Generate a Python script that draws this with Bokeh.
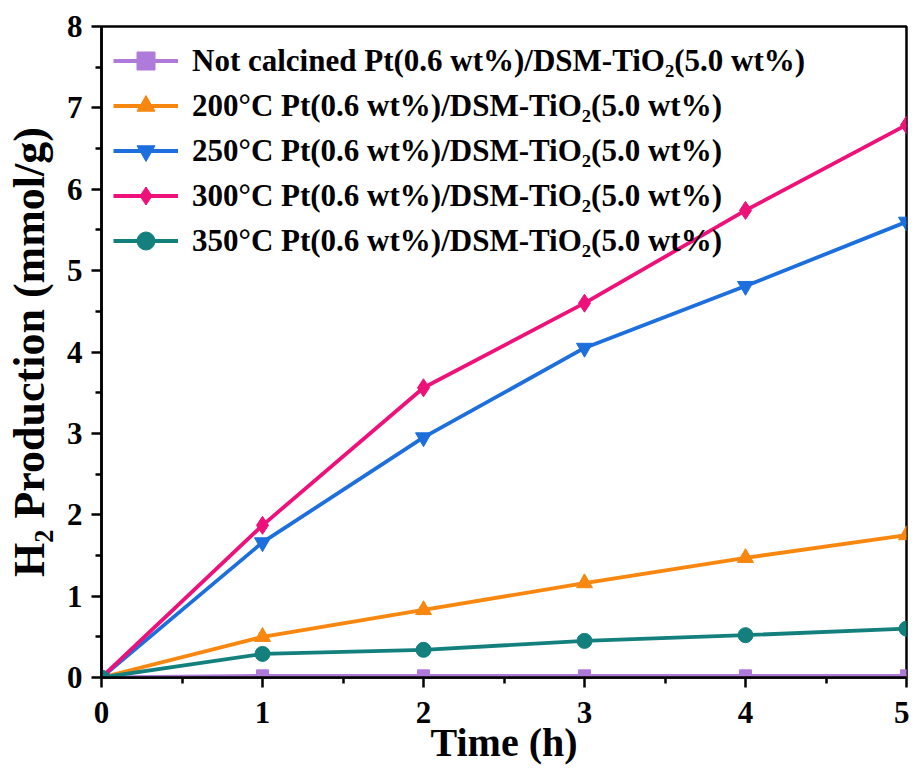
from bokeh.plotting import figure
from bokeh.models import Legend, LegendItem, FixedTicker, Range1d
from bokeh.embed import file_html
from bokeh.resources import INLINE

time_h = [0, 1, 2, 3, 4, 5]
not_calcined = [0, 0.02, 0.02, 0.02, 0.02, 0.02]
c200 = [0, 0.50, 0.83, 1.16, 1.47, 1.75]
c250 = [0, 1.66, 2.95, 4.05, 4.81, 5.60]
c300 = [0, 1.87, 3.56, 4.60, 5.74, 6.79]
c350 = [0, 0.29, 0.34, 0.45, 0.52, 0.60]

labels = [
    "Not calcined Pt(0.6 wt%)/DSM-TiO₂(5.0 wt%)",
    "200°C Pt(0.6 wt%)/DSM-TiO₂(5.0 wt%)",
    "250°C Pt(0.6 wt%)/DSM-TiO₂(5.0 wt%)",
    "300°C Pt(0.6 wt%)/DSM-TiO₂(5.0 wt%)",
    "350°C Pt(0.6 wt%)/DSM-TiO₂(5.0 wt%)",
]
series = [not_calcined, c200, c250, c300, c350]
colors = ["#AE7BDB", "#F7870F", "#1C6FDC", "#EE1179", "#14807D"]
markers = ["square", "triangle", "inverted_triangle", "diamond", "circle"]
sizes = [12, 16, 16, 18, 15]

FONT = "Liberation Serif"

p = figure(width=909, height=767, output_backend="svg", toolbar_location=None,
           x_range=Range1d(0, 5), y_range=Range1d(0, 8),
           min_border_left=101, min_border_right=3, min_border_top=26, min_border_bottom=89)

items = []
for ys, lab, col, mk, sz in zip(series, labels, colors, markers, sizes):
    r1 = p.line(time_h, ys, line_color=col, line_width=3.8)
    r2 = p.scatter(time_h, ys, marker=mk, size=sz, fill_color=col, line_color=col)
    items.append(LegendItem(label=lab, renderers=[r1, r2]))

legend = Legend(items=items, location="top_left", border_line_color=None,
                background_fill_alpha=0, margin=12, padding=2, spacing=0,
                glyph_width=65, glyph_height=45, label_height=45,
                label_standoff=14, label_text_font=FONT,
                label_text_font_style="bold", label_text_font_size="31px",
                label_text_color="black")
p.add_layout(legend)

p.grid.visible = False
p.outline_line_color = "black"
p.outline_line_width = 2.5

p.xaxis.ticker = FixedTicker(ticks=[0, 1, 2, 3, 4, 5], minor_ticks=[0.5, 1.5, 2.5, 3.5, 4.5])
p.yaxis.ticker = FixedTicker(ticks=[0, 1, 2, 3, 4, 5, 6, 7, 8],
                             minor_ticks=[0.5, 1.5, 2.5, 3.5, 4.5, 5.5, 6.5, 7.5])

for ax in (p.xaxis[0], p.yaxis[0]):
    ax.axis_line_width = 2.5
    ax.axis_line_color = "black"
    ax.major_tick_in = 0
    ax.major_tick_out = 10
    ax.minor_tick_in = 0
    ax.minor_tick_out = 6
    ax.major_tick_line_width = 2.5
    ax.minor_tick_line_width = 2.5
    ax.major_label_text_font = FONT
    ax.major_label_text_font_style = "bold"
    ax.major_label_text_font_size = "31px"
    ax.major_label_text_color = "black"
    ax.axis_label_text_font = FONT
    ax.axis_label_text_font_style = "bold"
    ax.axis_label_text_color = "black"

p.xaxis.axis_label = "Time (h)"
p.yaxis.axis_label = "H₂ Production (mmol/g)"
p.xaxis.axis_label_text_font_size = "40px"
p.yaxis.axis_label_text_font_size = "44px"
p.xaxis.major_label_standoff = 14
p.xaxis.axis_label_standoff = -6
p.yaxis.major_label_standoff = 9
p.yaxis.axis_label_standoff = 10

open("out.html", "w").write(file_html(p, INLINE))
